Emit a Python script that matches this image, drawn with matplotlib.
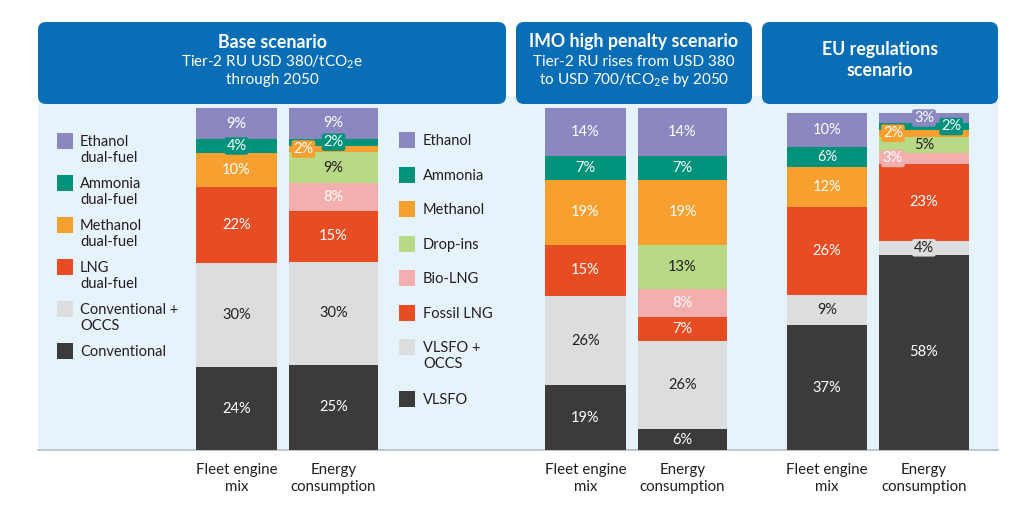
import numpy as np
import matplotlib
matplotlib.use("Agg")
import matplotlib.pyplot as plt
from matplotlib.patches import FancyBboxPatch, Rectangle

plt.rcParams["font.family"] = ["Lato", "DejaVu Sans"]
plt.rcParams["mathtext.fontset"] = "custom"
plt.rcParams["mathtext.rm"] = "Lato"

# ---- data (bottom to top) ----
fleet_segments = ["Conventional", "Conventional +\nOCCS", "LNG\ndual-fuel",
                  "Methanol\ndual-fuel", "Ammonia\ndual-fuel", "Ethanol\ndual-fuel"]
energy_segments = ["VLSFO", "VLSFO +\nOCCS", "Fossil LNG", "Bio-LNG",
                   "Drop-ins", "Methanol", "Ammonia", "Ethanol"]

base_fleet = [24, 30, 22, 10, 4, 9]
base_energy = [25, 30, 15, 8, 9, 2, 2, 9]
imo_fleet = [19, 26, 15, 19, 7, 14]
imo_energy = [6, 26, 7, 8, 13, 19, 7, 14]
eu_fleet = [37, 9, 26, 12, 6, 10]
eu_energy = [58, 4, 23, 3, 5, 2, 2, 3]

bar_names = ["Fleet engine\nmix", "Energy\nconsumption"]

# ---- styles ----
PURPLE, TEAL, ORANGE, RED = "#8A87C1", "#00927B", "#F7A030", "#E84C22"
LGREY, DARK, GREEN, PINK = "#DCDDDF", "#3B3B3B", "#B8DA87", "#F2AFAE"
BLUE, BODY, INK = "#0A6EB6", "#E6F3FB", "#231F20"

fleet_colors = [DARK, LGREY, RED, ORANGE, TEAL, PURPLE]
energy_colors = [DARK, LGREY, RED, PINK, GREEN, ORANGE, TEAL, PURPLE]
fleet_text = ["white", INK, "white", "white", "white", "white"]
energy_text = ["white", INK, "white", "white", INK, "white", "white", "white"]

# label tweaks: (panel, bar, segment) -> (dx in bar units, boxed)
tweaks = {
    (0, 0, 4): (0.0, True),
    (0, 1, 5): (-0.31, True),
    (0, 1, 6): (0.0, True),
    (2, 1, 7): (0.0, True),
    (2, 1, 6): (0.28, True),
    (2, 1, 5): (-0.32, True),
    (2, 1, 3): (-0.32, True),
    (2, 1, 1): (0.0, True),
}

W, H = 1024, 515
fig = plt.figure(figsize=(W / 100, H / 100), dpi=100)
bg = fig.add_axes([0, 0, 1, 1])
bg.set_xlim(0, W)
bg.set_ylim(H, 0)
bg.axis("off")

# body + baseline
bg.add_patch(Rectangle((38, 96), 960, 354, color=BODY, lw=0))
bg.plot([38, 998], [450, 450], color="#B4BCC4", lw=1.2)

# headers
headers = [(38, 506), (516, 752), (762, 998)]
for x0, x1 in headers:
    bg.add_patch(FancyBboxPatch((x0 + 8, 30), x1 - x0 - 16, 66,
                                boxstyle="round,pad=8", color=BLUE, lw=0))
    bg.add_patch(Rectangle((x0, 60), x1 - x0, 36, color=BLUE, lw=0))

hkw = dict(color="white", ha="center", va="center")
bg.text(272, 42, "Base scenario", fontsize=12.8, fontweight="bold", **hkw)
bg.text(272, 62, "Tier-2 RU USD 380/tCO$_{\\mathregular{2}}$e", fontsize=11, **hkw)
bg.text(272, 80, "through 2050", fontsize=11, **hkw)
bg.text(634, 42, "IMO high penalty scenario", fontsize=12.8, fontweight="bold", **hkw)
bg.text(634, 62, "Tier-2 RU rises from USD 380", fontsize=11, **hkw)
bg.text(634, 80, "to USD 700/tCO$_{\\mathregular{2}}$e by 2050", fontsize=11, **hkw)
bg.text(880, 49, "EU regulations", fontsize=12.8, fontweight="bold", **hkw)
bg.text(880, 70, "scenario", fontsize=12.8, fontweight="bold", **hkw)

# legends (first text line centred on the swatch)
y = 133
for name, col in zip(fleet_segments[::-1], fleet_colors[::-1]):
    bg.add_patch(Rectangle((57, y), 16, 16, color=col, lw=0))
    bg.text(80, y + 2, name, fontsize=10.5, color=INK, va="top", ha="left",
            linespacing=1.2)
    y += 42
y = 132
for name, col in zip(energy_segments[::-1], energy_colors[::-1]):
    bg.add_patch(Rectangle((399, y), 16, 16, color=col, lw=0))
    bg.text(423, y + 2, name, fontsize=10.5, color=INK, va="top", ha="left",
            linespacing=1.2)
    y += 34.5 + 17 * name.count("\n")

panels = [(base_fleet, base_energy), (imo_fleet, imo_energy), (eu_fleet, eu_energy)]
fleet_cx = [236.5, 585.5, 827]
tops = [108, 108, 113]
unit = 97
widths = [0.83, 0.92]

for p, (fl, en) in enumerate(panels):
    left = fleet_cx[p] - unit / 2
    ax = fig.add_axes([left / W, 1 - 450 / H, 2 * unit / W, (450 - tops[p]) / H])
    ax.set_xlim(-0.5, 1.5)
    ax.set_ylim(0, 100)
    ax.patch.set_alpha(0)
    for s in ax.spines.values():
        s.set_visible(False)
    ax.set_yticks([])
    ax.set_xticks([0, 1])
    ax.set_xticklabels(bar_names, fontsize=10.8, color=INK, linespacing=1.25)
    ax.tick_params(axis="x", length=0, pad=9.5)

    stacks = [(fl, fleet_colors, fleet_text), (en, energy_colors, energy_text)]
    for b, (vals, cols, tcols) in enumerate(stacks):
        vals = np.array(vals, dtype=float)
        h = vals * 100 / vals.sum()
        bottoms = np.concatenate([[0], np.cumsum(h)[:-1]])
        ax.bar(b, h, bottom=bottoms, width=widths[b], color=cols, lw=0)
        for i, v in enumerate(vals):
            dx, boxed = tweaks.get((p, b, i), (0.0, False))
            kw = {}
            if boxed:
                kw["bbox"] = dict(boxstyle="round,pad=0.12,rounding_size=0.15",
                                  fc=cols[i], ec="none")
            ax.text(b + dx, bottoms[i] + h[i] / 2, f"{int(v)}%", ha="center",
                    va="center", fontsize=10.5, color=tcols[i], zorder=5, **kw)

fig.savefig("out.png", dpi=100)
